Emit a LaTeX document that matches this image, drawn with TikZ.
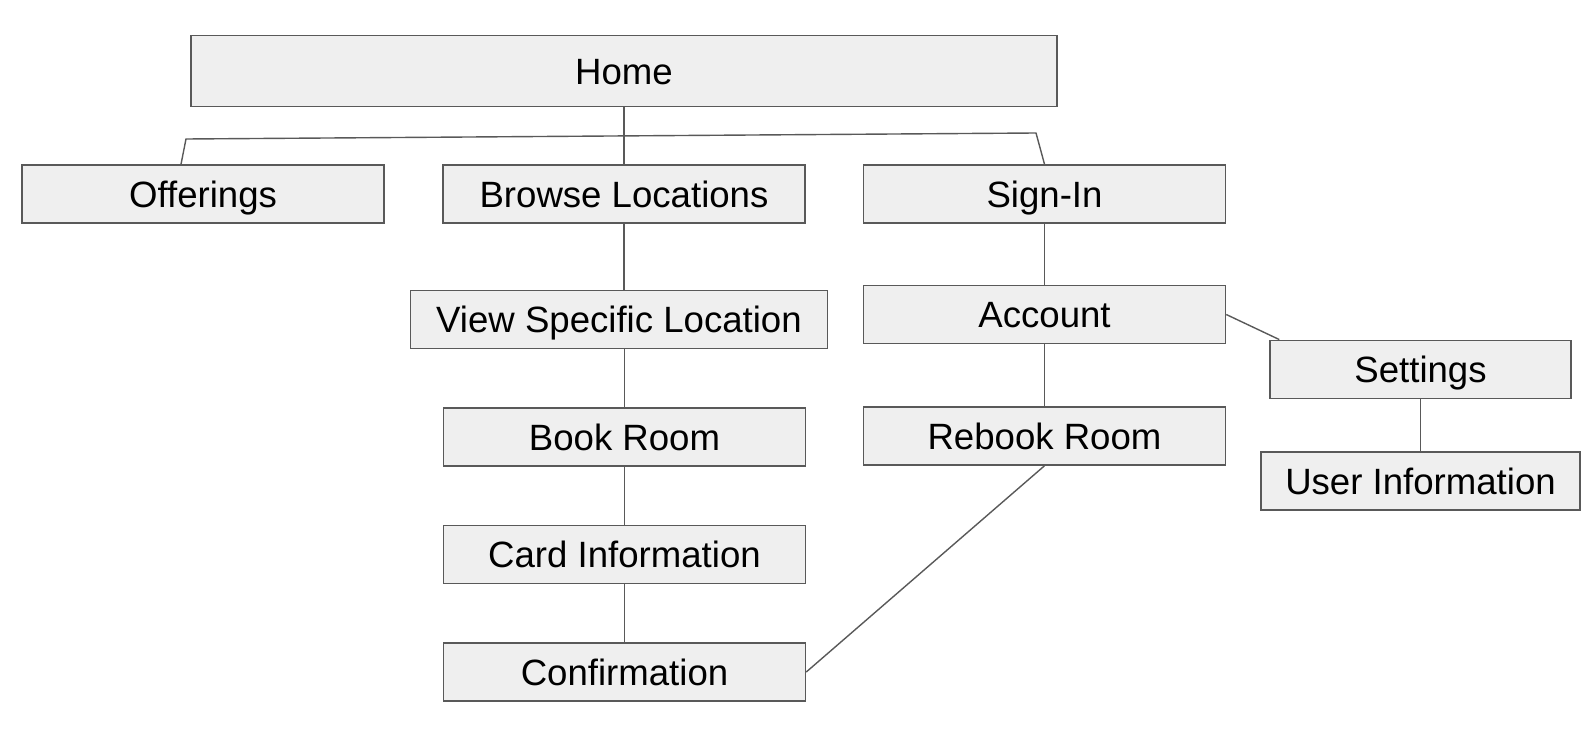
\documentclass[tikz,border=0pt]{standalone}
\usepackage{fontspec}
\setmainfont{Liberation Sans}
\usetikzlibrary{positioning}
\definecolor{BoxFill}{HTML}{EFEFEF}
\definecolor{BoxLine}{HTML}{595959}

\begin{document}
\begin{tikzpicture}[x=0.5pt,y=-0.5pt,node distance=29pt]
  \tikzstyle{page}=[draw=BoxLine,fill=BoxFill,line width=0.75pt,
    minimum width=181pt,minimum height=29pt,inner sep=0pt,
    text height=13.1pt,text depth=0pt,
    font=\fontsize{18.3}{20}\selectfont]
  \tikzstyle{link}=[draw=BoxLine,line width=0.7pt]
  \useasboundingbox (0,0) rectangle (1593,754);
  \node[page,minimum width=433pt,minimum height=35.5pt] (home) at (624,71) {Home};
  \node[page] (offer) at (203,194) {Offerings};
  \node[page] (browse) at (624,194) {Browse Locations};
  \node[page] (signin) at (1044.5,194) {Sign-In};
  \node[page,minimum width=208.5pt] (view) at (619,319.5) {View Specific Location};
  \node[page] (book) at (624.5,437) {Book Room};
  \node[page,below=of book] (card) {Card Information};
  \node[page,below=of card] (confirm) {Confirmation};
  \node[page] (account) at (1044.5,314.5) {Account};
  \node[page,below=31pt of account] (rebook) {Rebook Room};
  \node[page,minimum width=150.5pt] (settings) at (1420.5,369.3) {Settings};
  \node[page,minimum width=159.5pt] (userinfo) at (1420.5,481) {User Information};
  % branch under home
  \coordinate (bl) at (186,139);
  \coordinate (bm) at (624,135.5);
  \coordinate (br) at (1036,133);
  \draw[link] (home.south)--(bm)--(browse.north);
  \draw[link] ([xshift=-11pt]offer.north)--(bl)--(br)--(signin.north);
  \draw[link] (browse)--(view.north -| browse);
  \draw[link] (view.south -| book)--(book);
  \draw[link] (book)--(card);
  \draw[link] (card)--(confirm);
  \draw[link] (signin)--(account);
  \draw[link] (account)--(rebook);
  \draw[link] (account.east)--([xshift=5pt]settings.north west);
  \draw[link] (settings)--(userinfo);
  \draw[link] (rebook.south)--(confirm.east);
\end{tikzpicture}
\end{document}
